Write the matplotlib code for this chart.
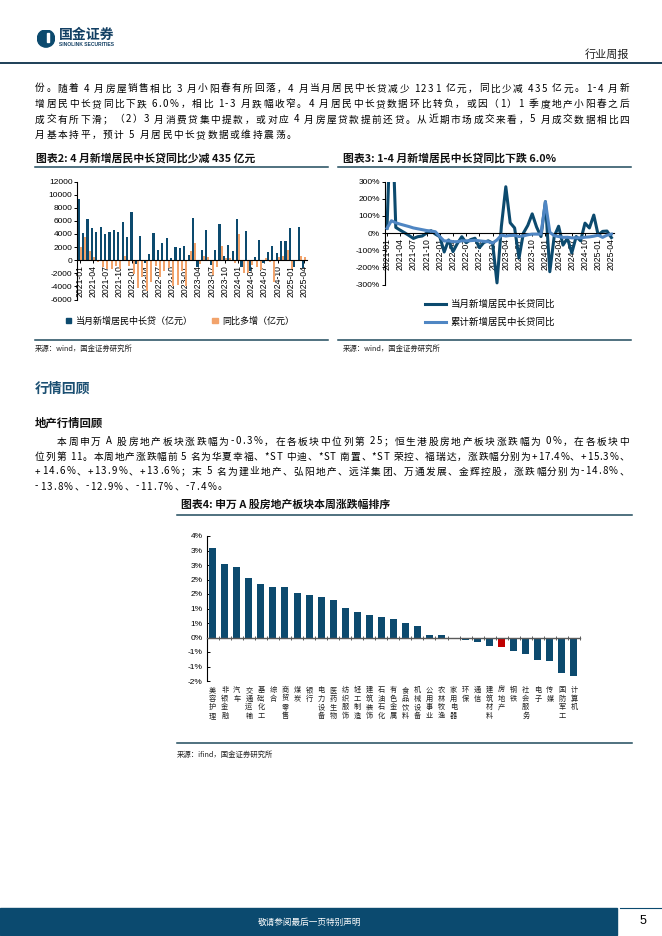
import numpy as np
import matplotlib
matplotlib.use('Agg')
import matplotlib.pyplot as plt
from matplotlib.patches import Patch, Rectangle, Circle
from matplotlib.lines import Line2D
from matplotlib.font_manager import FontProperties

plt.rcParams['font.family'] = ['Noto Sans CJK SC', 'DejaVu Sans']
plt.rcParams['axes.unicode_minus'] = False

W, H = 662, 936
NAVY = '#0c4a6e'
ORANGE = '#f2a36b'
LIGHT = '#4f86c3'
RED = '#c00000'
RULE = '#1f4a5c'
NUM = ['Liberation Sans', 'DejaVu Sans']

# ---- data: chart 2 / chart 3 (monthly, 2021-01 .. 2025-04)
months = [f'{y}-{m:02d}' for y in range(2021, 2026) for m in range(1, 13)][:52]
loan_monthly = [9350, 4150, 6250, 4900, 4350, 5050, 4000, 4300, 4600, 4300, 5800, 3550,
                7300, -550, 3700, -400, 1000, 4150, 1500, 2650, 3400, 400, 2050, 1900,
                2200, 850, 6400, -1000, 1600, 4600, -700, 1600, 5500, 700, 2350, 1450,
                6250, -1050, 4450, -1666, 500, 3100, -400, 1300, 2200, 1150, 2950, 2950,
                4900, -1000, 5050, -1231]
loan_yoy_diff = [2000, 3600, 1400, 500, -300, -1100, -1300, -1400, -900, -1400, 700, -900,
                 -2050, -4300, -2550, -4700, -3350, -900, -2500, -1650, -1200, -3900, -3750, -1650,
                 -4000, 1400, 2700, -600, 600, 450, -2200, -1050, 2100, 300, 300, -450,
                 4050, -1900, -1950, -666, -1100, -1500, 300, -300, -3300, 450, 600, 1500,
                 -1350, 50, 600, 435]
monthly_yoy = [28, 800, 33, 17, 2, -14, -31, -21, -17, 0, 14, -6,
               -21, -110, -40, -108, -60, -21, -56, -38, -30, -85, -55, -45,
               -58, -290, 40, 270, 60, 30, -145, 0, 45, 112, 35, -20,
               183, -225, -20, 40, -70, -30, -115, -20, -45, 58, 30, 105,
               -12, 10, 12, -26]
cum_yoy = [28, 72, 60, 52, 45, 38, 30, 25, 20, 15, 12, 8,
           -21, -46, -45, -50, -50, -45, -45, -44, -42, -45, -48, -50,
           -58, -40, -12, -17, -14, -13, -20, -16, -10, -6, -6, -6,
           183, 5, -15, -20, -25, -24, -28, -27, -28, -24, -22, -18,
           -12, -25, -12, -6]

# ---- data: chart 4
sectors = ['美容护理', '非银金融', '汽车', '交通运输', '基础化工', '综合', '商贸零售', '煤炭',
           '银行', '电力设备', '医药生物', '纺织服饰', '轻工制造', '建筑装饰', '石油石化',
           '有色金属', '食品饮料', '机械设备', '公用事业', '农林牧渔', '家用电器', '环保',
           '通信', '建筑材料', '房地产', '钢铁', '社会服务', '电子', '传媒', '国防军工', '计算机']
sector_chg = [3.08, 2.53, 2.43, 2.05, 1.85, 1.74, 1.74, 1.54, 1.48, 1.41, 1.29, 1.02, 0.89,
              0.78, 0.69, 0.65, 0.50, 0.38, 0.10, 0.07, -0.06, -0.07, -0.15, -0.30, -0.33,
              -0.47, -0.57, -0.77, -0.80, -1.21, -1.32]

para1 = [
    "份。随着 4 月房屋销售相比 3 月小阳春有所回落，4 月当月居民中长贷减少 1231 亿元，同比少减 435 亿元。1-4 月新",
    "增居民中长贷同比下跌 6.0%，相比 1-3 月跌幅收窄。4 月居民中长贷数据环比转负，或因（1）1 季度地产小阳春之后",
    "成交有所下滑；（2）3 月消费贷集中提款，或对应 4 月房屋贷款提前还贷。从近期市场成交来看，5 月成交数据相比四",
    "月基本持平，预计 5 月居民中长贷数据或维持震荡。",
]
para2 = [
    "本周申万 A 股房地产板块涨跌幅为-0.3%，在各板块中位列第 25；恒生港股房地产板块涨跌幅为 0%，在各板块中",
    "位列第 11。本周地产涨跌幅前 5 名为华夏幸福、*ST 中迪、*ST 南置、*ST 荣控、福瑞达，涨跌幅分别为+17.4%、+15.3%、",
    "+14.6%、+13.9%、+13.6%；末 5 名为建业地产、弘阳地产、远洋集团、万通发展、金辉控股，涨跌幅分别为-14.8%、",
    "-13.8%、-12.9%、-11.7%、-7.4%。",
]

fig = plt.figure(figsize=(W / 100, H / 100), dpi=100)
renderer = fig.canvas.get_renderer()


def fx(x):
    return x / W


def fy(y):
    return 1 - y / H


def add_ax(x0, y0, x1, y1):
    return fig.add_axes([fx(x0), fy(y1), (x1 - x0) / W, (y1 - y0) / H])


def rule(x0, x1, y, color=RULE, lw=1.1):
    fig.add_artist(Line2D([fx(x0), fx(x1)], [fy(y), fy(y)], color=color, lw=lw))


def justify(line, x0, x1, y, size, extra=None, **kw):
    """draw a line char by char so it fills x0..x1 (y is the baseline)"""
    prop = FontProperties(family=plt.rcParams['font.family'], size=size)
    base = renderer.get_text_width_height_descent('||', prop, ismath=False)[0]
    widths = [renderer.get_text_width_height_descent('|' + ch + '|', prop, ismath=False)[0] - base
              for ch in line]
    if extra is None:
        extra = (x1 - x0 - sum(widths)) / max(len(line) - 1, 1)
    x = x0
    for ch, w in zip(line, widths):
        if ch != ' ':
            fig.text(fx(x), fy(y), ch, fontsize=size, ha='left', va='baseline', **kw)
        x += w + extra
    return extra


def style_axis(ax):
    # spine position first: set_position resets the ticks
    ax.spines['bottom'].set_position(('data', 0))
    for s in ['top', 'right']:
        ax.spines[s].set_visible(False)
    for s in ['left', 'bottom']:
        ax.spines[s].set_linewidth(0.8)
    ax.patch.set_alpha(0)


# ---- header
ax_logo = fig.add_axes([fx(37), fy(47.5), 18 / W, 18 / H])
ax_logo.set_xlim(0, 1)
ax_logo.set_ylim(0, 1)
ax_logo.axis('off')
ax_logo.add_patch(Circle((0.5, 0.5), 0.48, color=NAVY))
ax_logo.add_patch(Rectangle((0.56, 0.30), 0.13, 0.50, color='white'))
fig.text(fx(59), fy(35), '国金证券', fontsize=10, fontweight='bold', color='#123f63',
         ha='left', va='center')
fig.text(fx(59), fy(44.5), 'SINOLINK SECURITIES', fontsize=3.6, fontweight='bold',
         color='#123f63', ha='left', va='center', family=NUM)
fig.text(fx(629), fy(55), '行业周报', fontsize=8, ha='right', va='center', color='#222222')
rule(0, W, 62.5, color='#1d3f57', lw=1.4)

# ---- paragraph 1
BODY = 7.0
ys1 = [91.5, 107, 122.5, 138]
ex = 0
for i, line in enumerate(para1):
    if i < len(para1) - 1:
        ex = justify(line, 35, 629, ys1[i], BODY)
    else:
        justify(line, 35, 629, ys1[i], BODY, extra=ex)

# ---- chart 2: bars
fig.text(fx(36), fy(158), '图表2: 4 月新增居民中长贷同比少减 435 亿元', fontsize=7.8,
         fontweight='bold', ha='left', va='center', color='#111111')
rule(35, 328, 167)
ax2 = add_ax(77.4, 181.6, 307.3, 299.5)
style_axis(ax2)
x = np.arange(len(months))
ax2.bar(x - 0.22, loan_monthly, width=0.5, color=NAVY, zorder=2)
ax2.bar(x + 0.26, loan_yoy_diff, width=0.44, color=ORANGE, zorder=2)
ax2.set_xlim(-0.5, 51.75)
ax2.set_ylim(-6000, 12000)
ax2.set_yticks(np.arange(-6000, 12001, 2000))
ax2.set_xticks(x[::3])
ax2.set_xticklabels(months[::3], rotation=90, fontsize=6.2, family=NUM)
for lab in ax2.get_yticklabels():
    lab.set_family(NUM)
    lab.set_fontsize(6)
ax2.tick_params(axis='both', length=2, width=0.7, pad=1.5)
ax2.legend(handles=[Patch(color=NAVY), Patch(color=ORANGE)],
           labels=['当月新增居民中长贷（亿元）', '同比多增（亿元）'],
           loc='center', bbox_to_anchor=(fx(180), fy(321)), bbox_transform=fig.transFigure,
           ncol=2, frameon=False, fontsize=6.5, handlelength=0.6, handleheight=0.6,
           handletextpad=0.5, columnspacing=2.2)
rule(35, 328, 340)
fig.text(fx(35), fy(349), '来源：wind，国金证券研究所', fontsize=5.3, ha='left', va='center',
         color='#222222')

# ---- chart 3: lines
fig.text(fx(343), fy(158), '图表3: 1-4 月新增居民中长贷同比下跌 6.0%', fontsize=7.8,
         fontweight='bold', ha='left', va='center', color='#111111')
rule(338, 631, 167)
ax3 = add_ax(384.8, 181.6, 613.6, 284.6)
style_axis(ax3)
ax3.plot(x, monthly_yoy, color=NAVY, lw=2.2, label='当月新增居民中长贷同比', zorder=2)
ax3.plot(x, cum_yoy, color=LIGHT, lw=2.2, label='累计新增居民中长贷同比', zorder=3)
ax3.set_xlim(-0.5, 51.5)
ax3.set_ylim(-300, 300)
ax3.set_yticks(np.arange(-300, 301, 100))
ax3.set_yticklabels([f'{v}%' for v in range(-300, 301, 100)], family=NUM, fontsize=6)
ax3.set_xticks(x[::3])
ax3.set_xticklabels(months[::3], rotation=90, fontsize=6.2, family=NUM)
ax3.tick_params(axis='both', length=2, width=0.7, pad=1.5)
ax3.legend(loc='center', bbox_to_anchor=(fx(490), fy(313.5)), bbox_transform=fig.transFigure,
           frameon=False, fontsize=6.8, handlelength=2.2, labelspacing=0.95, handletextpad=0.5)
rule(338, 631, 340)
fig.text(fx(343), fy(349), '来源：wind，国金证券研究所', fontsize=5.3, ha='left', va='center',
         color='#222222')

# ---- section text
fig.text(fx(35), fy(389), '行情回顾', fontsize=10, fontweight='bold', color='#1b4f72',
         ha='left', va='center')
fig.text(fx(35), fy(423), '地产行情回顾', fontsize=8.2, fontweight='bold', color='#111111',
         ha='left', va='center')
ys2 = [444.5, 459.5, 474.5, 489.5]
for i, line in enumerate(para2):
    x0 = 57 if i == 0 else 35
    if i < len(para2) - 1:
        ex = justify(line, x0, 629, ys2[i], BODY)
    else:
        justify(line, x0, 629, ys2[i], BODY, extra=ex)

# ---- chart 4: sector ranking
fig.text(fx(181), fy(505), '图表4: 申万 A 股房地产板块本周涨跌幅排序', fontsize=7.8,
         fontweight='bold', ha='left', va='center', color='#111111')
rule(177, 632, 515)
ax4 = add_ax(206.7, 536, 580, 681)
style_axis(ax4)
ax4.spines['bottom'].set_color('#5a5a5a')
ax4.spines['bottom'].set_linewidth(1.0)
xs = np.arange(len(sectors))
colors = [RED if s == '房地产' else NAVY for s in sectors]
ax4.bar(xs, sector_chg, width=0.58, color=colors, zorder=2)
ax4.set_xlim(-0.42, len(sectors) - 0.5)
ax4.set_ylim(-1.5, 3.5)
yt = np.arange(-1.5, 3.51, 0.5)
ax4.set_yticks(yt)
ax4.set_yticklabels([f'{int(np.sign(v) * np.floor(abs(v) + 0.5))}%' for v in yt],
                    family=NUM, fontsize=6)
ax4.set_xticks(np.arange(-0.5, len(sectors), 1))
ax4.set_xticklabels([])
ax4.tick_params(axis='y', direction='in', length=2.5, width=0.7, pad=3)
ax4.tick_params(axis='x', direction='inout', length=2.5, width=0.7, color='#5a5a5a')
for i, name in enumerate(sectors):
    ax4.text(i, -0.035, '\n'.join(name), transform=ax4.get_xaxis_transform(), ha='center',
             va='top', fontsize=5.2, linespacing=1.1, color='#222222')
rule(177, 632, 743)
fig.text(fx(177), fy(755), '来源：ifind，国金证券研究所', fontsize=5.3, ha='left', va='center',
         color='#222222')

# ---- footer
fig.patches.append(Rectangle((0, fy(935)), fx(617), 27 / H, transform=fig.transFigure,
                             color='#0b4a6f', zorder=0))
fig.text(fx(310), fy(922), '敬请参阅最后一页特别声明', fontsize=6.2, color='white',
         ha='center', va='center')
rule(620, W, 908, color='#0b4a6f', lw=0.8)
fig.text(fx(643), fy(921), '5', fontsize=9, family=NUM, ha='center', va='center')

fig.savefig('out.png', dpi=100)
